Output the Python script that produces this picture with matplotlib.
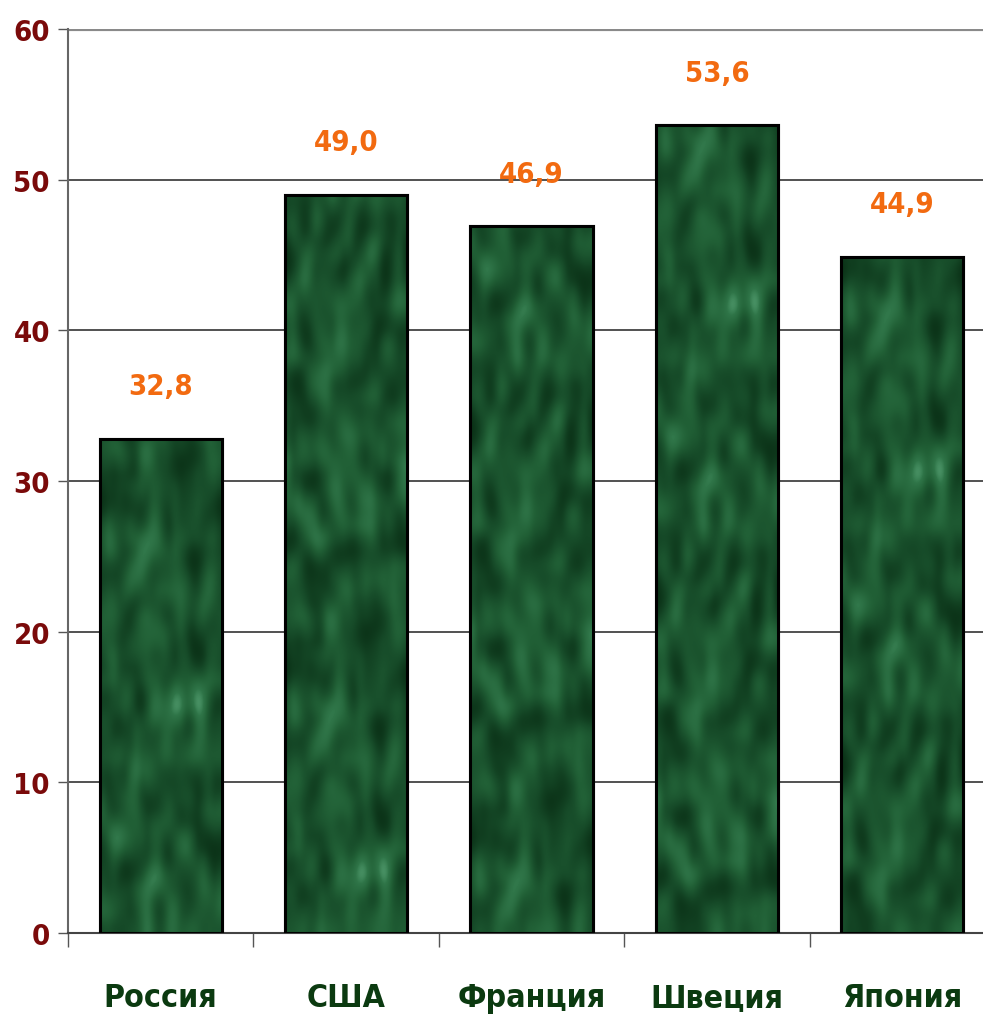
import numpy as np
import matplotlib
matplotlib.use("Agg")
import matplotlib.pyplot as plt
from matplotlib import font_manager
from matplotlib.font_manager import FontProperties
from matplotlib.ft2font import FT2Font
from matplotlib.colors import LinearSegmentedColormap

# Data
countries = ["Россия", "США", "Франция", "Швеция", "Япония"]
values = [32.8, 49.0, 46.9, 53.6, 44.9]
value_labels = ["32,8", "49,0", "46,9", "53,6", "44,9"]
yticks = [0, 10, 20, 30, 40, 50, 60]


def _weight(f):
    w = f.weight
    if isinstance(w, str):
        return font_manager.weight_dict.get(w, 400)
    return int(w)


def _has(path, chars):
    try:
        ft = FT2Font(path)
        return all(ft.get_char_index(ord(c)) != 0 for c in chars)
    except Exception:
        return False


# pick a bold narrow face; one with Cyrillic for the category names
fonts = font_manager.fontManager.ttflist
narrow_bold = [f for f in fonts
               if ("Narrow" in f.name or "Condensed" in f.name
                   or str(f.stretch) in ("condensed", "semi-condensed", "extra-condensed"))
               and _weight(f) >= 600 and f.style == "normal"]
digit_font = next((f for f in narrow_bold if _has(f.fname, "0123456789,")), None)
cyr_font = next((f for f in narrow_bold if _has(f.fname, "РоссияШвецФранЯпСША")), None)

bold_fallback = FontProperties(family=["Liberation Sans", "DejaVu Sans"], weight="bold")
num_fp = FontProperties(fname=digit_font.fname) if digit_font else bold_fallback
cat_fp = FontProperties(fname=cyr_font.fname) if cyr_font else bold_fallback

fig = plt.figure(figsize=(9.83, 10.2), dpi=100)
ax = fig.add_axes([68 / 983, 86 / 1020, 927 / 983, 904 / 1020])

x = np.arange(len(countries))
bars = ax.bar(x, values, width=0.66, color="#1f5a35", edgecolor="black",
              linewidth=2.2, zorder=3)

# marble-like texture inside the bars
rng = np.random.default_rng(11)
tex = rng.random((70, 22))
for _ in range(2):
    tex = (2 * tex + np.roll(tex, 1, 0) + np.roll(tex, -1, 0)
           + np.roll(tex, 1, 1) + np.roll(tex, -1, 1)) / 6
tex = (tex - tex.min()) / (tex.max() - tex.min())
tex = tex ** 1.4
cmap = LinearSegmentedColormap.from_list(
    "marble", ["#0a3016", "#164a28", "#216036", "#2f7548", "#5aa578"])
for i, b in enumerate(bars):
    t = np.roll(tex, 13 * i, axis=0)
    im = ax.imshow(t, cmap=cmap, aspect="auto", zorder=3.5,
                   extent=[b.get_x(), b.get_x() + b.get_width(), 0, 60],
                   interpolation="bicubic")
    im.set_clip_path(b)
    ax.bar(b.get_x() + b.get_width() / 2, b.get_height(), width=b.get_width(),
           color="none", edgecolor="black", linewidth=2.2, zorder=4)

for xi, v, lab in zip(x, values, value_labels):
    ax.text(xi, v + 3.5, lab, ha="center", va="center", color="#f26a10",
            fontproperties=num_fp, fontsize=21, zorder=5)

ax.set_xlim(-0.5, len(countries) - 0.5)
ax.set_ylim(0, 60)
ax.set_yticks(yticks)
ax.set_yticklabels([str(t) for t in yticks], color="#7a0a0a",
                   fontproperties=num_fp, fontsize=21)
ax.tick_params(axis="y", length=7, width=1, color="#555555", pad=6)

ax.set_xticks(x)
ax.set_xticklabels(countries, color="#0b3a10", fontproperties=cat_fp,
                   fontsize=23)
ax.set_xticks(np.arange(len(countries) + 1) - 0.5, minor=True)
ax.tick_params(axis="x", which="major", length=0, pad=35)
ax.tick_params(axis="x", which="minor", length=10, width=1, color="#555555")

for t in yticks[1:-1]:
    ax.axhline(t, color="#333333", linewidth=1.2, zorder=1)
ax.axhline(60, color="#8a8a8a", linewidth=3, zorder=1)

for s in ["top", "right"]:
    ax.spines[s].set_visible(False)
ax.spines["left"].set_color("#666666")
ax.spines["left"].set_linewidth(1.5)
ax.spines["bottom"].set_color("#444444")
ax.spines["bottom"].set_linewidth(1.5)

fig.savefig("out.png", dpi=100)
